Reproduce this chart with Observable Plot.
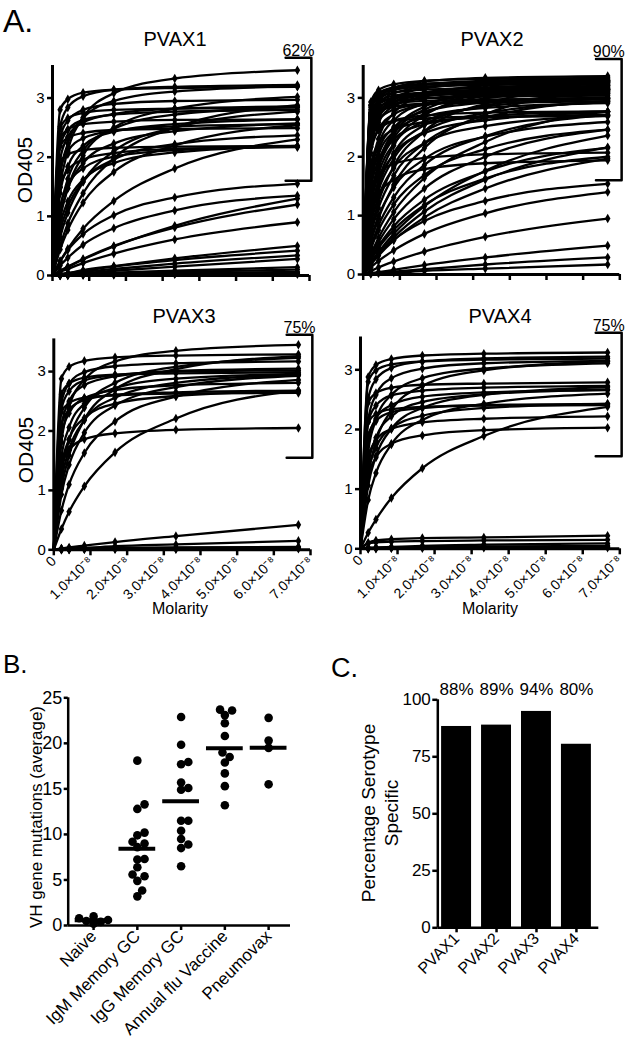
<!DOCTYPE html>
<html>
<head>
<meta charset="utf-8">
<script src="https://cdn.jsdelivr.net/npm/d3@7"></script>
<script src="https://cdn.jsdelivr.net/npm/@observablehq/plot@0.6"></script>
<style>
  html, body { margin: 0; padding: 0; background: #fff; }
  #fig { position: relative; width: 632px; height: 1050px; background: #fff; overflow: hidden;
         font-family: "Liberation Sans", Arial, sans-serif; color: #000; }
  .abs { position: absolute; }
  .lbl { position: absolute; white-space: nowrap; line-height: 1; }
  .rot { position: absolute; white-space: nowrap; text-align: center; transform: translate(-50%, -50%) rotate(-90deg); }
  .ttl { position: absolute; white-space: nowrap; line-height: 1; transform: translateX(-50%); }
</style>
</head>
<body>
<div id="fig"></div>
<script>
// ---------------- Panel A data (OD405 at each molarity, one row per antibody) ----------------
const conc = [2.08e-9, 4.17e-9, 8.33e-9, 1.67e-8, 3.33e-8, 6.67e-8];
const xTickValues = [0, 1e-8, 2e-8, 3e-8, 4e-8, 5e-8, 6e-8, 7e-8];
const yTicksA = [0, 1, 2, 3];
const panelNames = ["PVAX1", "PVAX2", "PVAX3", "PVAX4"];
const positivePct = ["62%", "90%", "75%", "75%"];
const bracketLow = [1.6, 1.6, 1.55, 1.55];
const bracketTop = [3.68, 3.66, 3.62, 3.62];

const pvax1 = [
  [1.49, 2.11, 2.67, 3.08, 3.33, 3.47],
  [2.80, 2.98, 3.09, 3.14, 3.17, 3.19],
  [2.52, 2.84, 3.03, 3.14, 3.19, 3.22],
  [0.96, 1.48, 2.03, 2.50, 2.82, 3.02],
  [0.50, 0.88, 1.39, 1.98, 2.50, 2.88],
  [2.33, 2.62, 2.80, 2.90, 2.95, 2.97],
  [2.49, 2.66, 2.75, 2.80, 2.82, 2.84],
  [1.96, 2.34, 2.59, 2.73, 2.82, 2.86],
  [0.64, 1.06, 1.58, 2.10, 2.50, 2.77],
  [2.32, 2.47, 2.56, 2.60, 2.63, 2.64],
  [1.39, 1.84, 2.19, 2.43, 2.56, 2.64],
  [1.01, 1.47, 1.90, 2.23, 2.44, 2.57],
  [1.76, 2.10, 2.32, 2.45, 2.52, 2.56],
  [0.44, 0.77, 1.23, 1.75, 2.20, 2.54],
  [2.19, 2.33, 2.41, 2.46, 2.48, 2.49],
  [0.75, 1.16, 1.59, 1.96, 2.22, 2.37],
  [1.92, 2.05, 2.12, 2.16, 2.18, 2.19],
  [1.49, 1.78, 1.96, 2.07, 2.14, 2.17],
  [1.15, 1.52, 1.81, 2.01, 2.12, 2.18],
  [0.24, 0.45, 0.79, 1.26, 1.81, 2.30],
  [0.86, 1.25, 1.62, 1.90, 2.08, 2.19],
  [1.12, 1.63, 2.11, 2.48, 2.72, 2.85],
  [2.19, 2.46, 2.63, 2.72, 2.77, 2.80],
  [1.68, 2.23, 2.66, 2.95, 3.11, 3.20],
  [0.24, 0.43, 0.70, 1.02, 1.32, 1.55],
  [0.17, 0.30, 0.52, 0.80, 1.10, 1.35],
  [0.07, 0.14, 0.27, 0.49, 0.84, 1.30],
  [0.08, 0.15, 0.28, 0.50, 0.81, 1.20],
  [0.06, 0.11, 0.21, 0.37, 0.61, 0.90],
  [0.02, 0.04, 0.09, 0.16, 0.29, 0.50],
  [0.02, 0.04, 0.08, 0.15, 0.26, 0.42],
  [0.02, 0.03, 0.06, 0.11, 0.20, 0.34],
  [0.01, 0.02, 0.04, 0.08, 0.15, 0.28],
  [0.01, 0.02, 0.03, 0.05, 0.08, 0.14],
  [0.00, 0.01, 0.02, 0.04, 0.06, 0.10],
  [0.01, 0.01, 0.02, 0.03, 0.04, 0.06],
  [0.00, 0.01, 0.01, 0.02, 0.03, 0.04],
  [0.02, 0.02, 0.03, 0.03, 0.04, 0.05],
  [0.00, 0.00, 0.01, 0.01, 0.02, 0.02]
];

const pvax2 = [
  [2.93, 3.13, 3.23, 3.29, 3.32, 3.34],
  [2.88, 3.08, 3.18, 3.24, 3.27, 3.29],
  [2.84, 3.03, 3.14, 3.19, 3.22, 3.24],
  [2.80, 2.99, 3.09, 3.14, 3.17, 3.19],
  [2.75, 2.94, 3.04, 3.09, 3.12, 3.14],
  [2.71, 2.89, 2.99, 3.04, 3.07, 3.09],
  [2.67, 2.85, 2.94, 2.99, 3.02, 3.04],
  [2.62, 2.80, 2.90, 2.95, 2.97, 2.99],
  [2.58, 2.75, 2.85, 2.90, 2.92, 2.94],
  [2.36, 2.52, 2.61, 2.65, 2.68, 2.69],
  [2.64, 2.97, 3.17, 3.28, 3.34, 3.37],
  [2.56, 2.88, 3.08, 3.18, 3.24, 3.27],
  [2.48, 2.80, 2.99, 3.09, 3.14, 3.17],
  [2.41, 2.71, 2.89, 2.99, 3.04, 3.07],
  [2.33, 2.62, 2.80, 2.90, 2.95, 2.97],
  [2.17, 2.45, 2.61, 2.70, 2.75, 2.77],
  [2.26, 2.70, 2.99, 3.16, 3.25, 3.30],
  [2.16, 2.58, 2.86, 3.02, 3.11, 3.15],
  [2.06, 2.46, 2.72, 2.88, 2.96, 3.00],
  [1.86, 2.22, 2.46, 2.59, 2.67, 2.71],
  [1.73, 2.30, 2.74, 3.04, 3.21, 3.30],
  [1.66, 2.20, 2.62, 2.90, 3.06, 3.16],
  [1.58, 2.10, 2.50, 2.77, 2.92, 3.01],
  [1.45, 1.93, 2.30, 2.55, 2.69, 2.77],
  [1.29, 1.88, 2.43, 2.85, 3.12, 3.28],
  [1.23, 1.80, 2.32, 2.73, 2.99, 3.14],
  [1.17, 1.71, 2.22, 2.60, 2.85, 2.99],
  [1.08, 1.58, 2.04, 2.40, 2.62, 2.76],
  [1.03, 1.59, 2.19, 2.70, 3.04, 3.26],
  [0.97, 1.50, 2.06, 2.54, 2.87, 3.07],
  [0.85, 1.32, 1.81, 2.23, 2.52, 2.70],
  [0.74, 1.23, 1.84, 2.43, 2.90, 3.21],
  [0.68, 1.13, 1.68, 2.23, 2.66, 2.95],
  [0.60, 0.99, 1.48, 1.96, 2.34, 2.59],
  [0.55, 0.95, 1.52, 2.15, 2.72, 3.14],
  [0.47, 0.83, 1.31, 1.86, 2.35, 2.71],
  [0.43, 0.75, 1.19, 1.69, 2.13, 2.46],
  [0.34, 0.62, 1.06, 1.64, 2.25, 2.77],
  [0.30, 0.55, 0.94, 1.46, 2.00, 2.46],
  [0.26, 0.48, 0.82, 1.27, 1.75, 2.15],
  [0.24, 0.45, 0.76, 1.18, 1.63, 2.00],
  [0.20, 0.38, 0.69, 1.16, 1.76, 2.36],
  [0.18, 0.35, 0.63, 1.07, 1.61, 2.16],
  [0.17, 0.32, 0.58, 0.97, 1.46, 1.97],
  [1.02, 1.35, 1.61, 1.79, 1.89, 1.94],
  [1.42, 1.69, 1.88, 1.98, 2.04, 2.07],
  [2.87, 3.06, 3.17, 3.22, 3.25, 3.27],
  [2.73, 2.91, 3.01, 3.06, 3.09, 3.11],
  [2.60, 2.93, 3.13, 3.23, 3.29, 3.32],
  [2.44, 2.75, 2.94, 3.04, 3.09, 3.12],
  [2.21, 2.65, 2.93, 3.09, 3.18, 3.23],
  [1.53, 2.03, 2.42, 2.68, 2.83, 2.91],
  [0.93, 1.43, 1.97, 2.43, 2.74, 2.93],
  [1.26, 1.84, 2.38, 2.80, 3.06, 3.21],
  [0.19, 0.35, 0.59, 0.91, 1.25, 1.54],
  [0.12, 0.23, 0.41, 0.69, 1.04, 1.40],
  [0.06, 0.12, 0.22, 0.39, 0.64, 0.95],
  [0.02, 0.04, 0.08, 0.16, 0.29, 0.49],
  [0.02, 0.03, 0.05, 0.09, 0.17, 0.29],
  [0.01, 0.02, 0.03, 0.06, 0.10, 0.17]
];

const pvax3 = [
  [2.88, 3.08, 3.18, 3.24, 3.27, 3.29],
  [2.48, 2.80, 2.99, 3.09, 3.14, 3.17],
  [2.09, 2.50, 2.77, 2.92, 3.01, 3.05],
  [1.81, 2.40, 2.86, 3.17, 3.35, 3.45],
  [1.27, 1.85, 2.39, 2.81, 3.08, 3.23],
  [1.03, 1.59, 2.19, 2.70, 3.04, 3.26],
  [2.32, 2.47, 2.56, 2.60, 2.63, 2.64],
  [2.10, 2.36, 2.52, 2.61, 2.65, 2.68],
  [1.56, 2.06, 2.46, 2.72, 2.88, 2.96],
  [1.16, 1.69, 2.18, 2.56, 2.81, 2.95],
  [0.93, 1.43, 1.97, 2.43, 2.74, 2.93],
  [0.66, 1.10, 1.63, 2.16, 2.58, 2.86],
  [1.92, 2.30, 2.55, 2.69, 2.77, 2.81],
  [2.62, 2.80, 2.90, 2.95, 2.97, 2.99],
  [0.35, 0.64, 1.07, 1.64, 2.21, 2.68],
  [1.40, 1.68, 1.86, 1.96, 2.02, 2.05],
  [1.40, 1.86, 2.22, 2.46, 2.59, 2.67],
  [2.37, 2.67, 2.85, 2.94, 3.00, 3.02],
  [0.02, 0.04, 0.07, 0.13, 0.23, 0.42],
  [0.01, 0.02, 0.03, 0.06, 0.09, 0.15],
  [0.01, 0.01, 0.02, 0.03, 0.04, 0.05],
  [0.00, 0.01, 0.01, 0.02, 0.02, 0.03],
  [0.02, 0.02, 0.03, 0.03, 0.03, 0.04],
  [0.00, 0.00, 0.01, 0.01, 0.01, 0.02]
];

const pvax4 = [
  [2.88, 3.08, 3.18, 3.24, 3.27, 3.29],
  [2.52, 2.84, 3.03, 3.14, 3.19, 3.22],
  [2.16, 2.58, 2.86, 3.02, 3.11, 3.15],
  [1.63, 2.16, 2.58, 2.86, 3.02, 3.11],
  [2.45, 2.61, 2.70, 2.75, 2.77, 2.79],
  [2.13, 2.40, 2.57, 2.65, 2.70, 2.73],
  [1.82, 2.18, 2.41, 2.55, 2.62, 2.66],
  [1.40, 1.86, 2.22, 2.46, 2.59, 2.67],
  [1.06, 1.55, 2.01, 2.36, 2.58, 2.71],
  [0.82, 1.27, 1.75, 2.16, 2.43, 2.60],
  [2.12, 2.26, 2.34, 2.38, 2.40, 2.41],
  [1.90, 2.14, 2.29, 2.36, 2.41, 2.43],
  [1.52, 1.82, 2.01, 2.12, 2.18, 2.22],
  [1.23, 1.80, 2.32, 2.73, 2.99, 3.14],
  [0.27, 0.49, 0.85, 1.35, 1.89, 2.38],
  [1.21, 1.53, 1.76, 1.90, 1.99, 2.03],
  [1.28, 1.69, 2.02, 2.23, 2.36, 2.43],
  [2.80, 2.99, 3.09, 3.14, 3.17, 3.19],
  [0.10, 0.14, 0.16, 0.18, 0.19, 0.22],
  [0.09, 0.11, 0.12, 0.13, 0.14, 0.15],
  [0.01, 0.02, 0.03, 0.05, 0.07, 0.09],
  [0.00, 0.01, 0.02, 0.03, 0.04, 0.05],
  [0.02, 0.02, 0.02, 0.03, 0.03, 0.04],
  [0.00, 0.00, 0.01, 0.01, 0.02, 0.02]
];

// ---------------- Panel B data ----------------
const groups = ["Naive", "IgM Memory GC", "IgG Memory GC", "Annual flu Vaccine", "Pneumovax"];
const naive = [0.2, 0.4, 0.5, 0.6, 0.8, 1.0];
const igmMemoryGC = [18.1, 13.3, 12.8, 10.2, 9.9, 9.2, 9.0, 8.6, 7.3, 7.25, 6.4, 5.4, 5.6, 4.9, 3.85, 3.2];
const iggMemoryGC = [22.9, 19.85, 17.7, 17.95, 15.1, 14.9, 15.7, 11.5, 11.5, 10.4, 9.5, 8.9, 8.5, 6.5];
const annualFlu = [23.7, 23.6, 23.1, 22.2, 20.8, 19.0, 18.5, 17.9, 16.7, 15.3, 13.2];
const pneumovax = [22.8, 20.3, 19.5, 15.5];
const yTicksB = [0, 5, 10, 15, 20, 25];

// ---------------- Panel C data ----------------
const serotypes = ["PVAX1", "PVAX2", "PVAX3", "PVAX4"];
const pctSpecific = [88.3, 88.9, 94.9, 80.5];
const pctLabels = ["88%", "89%", "94%", "80%"];
const yTicksC = [0, 25, 50, 75, 100];

// ---------------- helpers ----------------
const fig = document.getElementById("fig");
const FONT = "'Liberation Sans', Arial, sans-serif";
const baseStyle = {background: "transparent", overflow: "visible", fontFamily: FONT, color: "black"};

function place(node, left, top) {
  const d = document.createElement("div");
  d.className = "abs";
  d.style.left = left + "px";
  d.style.top = top + "px";
  d.appendChild(node);
  fig.appendChild(d);
}
function addText(cls, text, left, top, size, extra) {
  const d = document.createElement("div");
  d.className = cls;
  d.innerHTML = text;
  d.style.left = left + "px";
  d.style.top = top + "px";
  d.style.fontSize = size + "px";
  if (extra) Object.assign(d.style, extra);
  fig.appendChild(d);
}

const fmtMolar = d => d === 0 ? "0" : (d / 1e-8).toFixed(1) + "\u00D710\u207B\u2078";
const fmtInt = d => String(Math.round(d));

function panelA(k, rows, geom, bottom) {
  const pts = [], lines = [];
  rows.forEach((row, id) => {
    lines.push({id, x: 0, y: 0});
    row.forEach((v, j) => {
      pts.push({id, x: conc[j], y: v});
      lines.push({id, x: conc[j], y: v});
    });
  });
  const bx1 = 6.35e-8, bx2 = 7.05e-8;
  const bracket = [
    {x: bx1, y: bracketTop[k]}, {x: bx2, y: bracketTop[k]},
    {x: bx2, y: bracketLow[k]}, {x: bx1, y: bracketLow[k]}
  ];
  return Plot.plot({
    width: geom.width, height: geom.height,
    marginLeft: geom.ml, marginRight: geom.mr, marginTop: geom.mt, marginBottom: geom.mb,
    style: baseStyle,
    x: {domain: [0, 7e-8]},
    y: {domain: [0, 3.55]},
    marks: [
      Plot.line(lines, {x: "x", y: "y", z: "id", curve: "monotone-x", stroke: "black", strokeWidth: 2.3}),
      Plot.dot(pts, {x: "x", y: "y", symbol: "diamond", r: 2.9, fill: "black", stroke: "none"}),
      Plot.ruleX([0], {stroke: "black", strokeWidth: 3}),
      Plot.ruleY([0], {stroke: "black", strokeWidth: 3}),
      Plot.axisY({ticks: yTicksA, tickFormat: fmtInt, tickSize: 5, tickPadding: 3, fontSize: 15, strokeWidth: 2.5, label: null}),
      Plot.axisX({ticks: xTickValues, tickSize: 6, tickPadding: 3,
                  tickFormat: bottom ? fmtMolar : () => "", tickRotate: bottom ? -45 : 0,
                  fontSize: 14, strokeWidth: 2.5, label: null}),
      Plot.line(bracket, {x: "x", y: "y", stroke: "black", strokeWidth: 2.5}),
      Plot.text([positivePct[k]], {x: (bx1 + bx2) / 2, y: bracketTop[k], text: d => d,
                 lineAnchor: "bottom", dy: -2, fontSize: 16, fill: "black"})
    ]
  });
}

// ---------------- Panel A ----------------
place(panelA(0, pvax1, {width: 318, height: 290, ml: 52, mr: 9, mt: 65, mb: 15}, false), 0, 0);
place(panelA(1, pvax2, {width: 322, height: 290, ml: 52.7, mr: 12.7, mt: 65, mb: 16}, false), 310, 0);
place(panelA(2, pvax3, {width: 318, height: 312, ml: 53.3, mr: 8, mt: 48.4, mb: 52.7}, true), 0, 290);
place(panelA(3, pvax4, {width: 322, height: 312, ml: 50, mr: 12.7, mt: 46.5, mb: 53.7}, true), 310, 290);

addText("lbl", "A.", 3, 5, 32);
addText("ttl", panelNames[0], 175, 29, 20);
addText("ttl", panelNames[1], 492, 29, 20);
addText("ttl", panelNames[2], 184, 306, 20);
addText("ttl", panelNames[3], 500, 306, 20);
addText("rot", "OD405", 24.5, 170, 21);
addText("rot", "OD405", 25.5, 450, 21);
addText("ttl", "Molarity", 180, 601, 16);
addText("ttl", "Molarity", 490, 601, 16);

// ---------------- Panel B ----------------
const bValues = [naive, igmMemoryGC, iggMemoryGC, annualFlu, pneumovax];
const bXDomain = [-0.58, 4.5];
const bPxX = 222 / (bXDomain[1] - bXDomain[0]);
const bPxY = 227.7 / 25;
const dotR = 4.3;

function swarmOffsets(values) {
  const order = values.map((v, i) => i).sort((a, b) => values[a] - values[b]);
  const placed = [], offs = new Array(values.length);
  const step = 2.4, minD = 2 * dotR * 0.82;
  for (const i of order) {
    const y = values[i] * bPxY;
    let off = 0;
    for (let n = 0; n < 60; n++) {
      off = n === 0 ? 0 : (n % 2 ? 1 : -1) * Math.ceil(n / 2) * step;
      if (placed.every(p => (p.x - off) ** 2 + (p.y - y) ** 2 >= minD * minD)) break;
    }
    placed.push({x: off, y});
    offs[i] = off / bPxX;
  }
  return offs;
}

const bPoints = [];
bValues.forEach((vals, gi) => {
  const offs = swarmOffsets(vals);
  vals.forEach((v, j) => bPoints.push({gi, v, x: gi + offs[j]}));
});
const bMeans = bValues.map((vals, gi) => ({gi, m: d3.mean(vals)}));

const plotB = Plot.plot({
  width: 300, height: 370,
  marginLeft: 67.7, marginRight: 10, marginTop: 17.3, marginBottom: 125,
  style: baseStyle,
  x: {domain: bXDomain},
  y: {domain: [0, 25]},
  marks: [
    Plot.ruleX([bXDomain[0]], {stroke: "black", strokeWidth: 2.5}),
    Plot.ruleY([0], {stroke: "black", strokeWidth: 2.5}),
    Plot.dot(bPoints, {x: "x", y: "v", r: dotR, fill: "black", stroke: "none"}),
    Plot.ruleY(bMeans, {y: "m", x1: d => d.gi - 0.42, x2: d => d.gi + 0.42, stroke: "black", strokeWidth: 4}),
    Plot.axisY({ticks: yTicksB, tickSize: 4, tickPadding: 2, fontSize: 18, strokeWidth: 2.5, label: null}),
    Plot.axisX({ticks: groups.map((g, i) => i), tickFormat: i => groups[i], tickRotate: -45,
                tickSize: 5, tickPadding: 3, fontSize: 17, strokeWidth: 2.5, label: null})
  ]
});
place(plotB, 0, 680);
addText("lbl", "B.", 3, 651, 26);
addText("rot", "VH gene mutations (average)", 37, 817, 17);

// ---------------- Panel C ----------------
const cXDomain = [-0.47, 3.56];
const cData = serotypes.map((s, i) => ({i, v: pctSpecific[i], label: pctLabels[i]}));
const plotC = Plot.plot({
  width: 302, height: 380,
  marginLeft: 107.3, marginRight: 33.7, marginTop: 29.3, marginBottom: 122.7,
  style: baseStyle,
  x: {domain: cXDomain},
  y: {domain: [0, 100]},
  marks: [
    Plot.rectY(cData, {x1: d => d.i - 0.375, x2: d => d.i + 0.375, y: "v", fill: "black"}),
    Plot.ruleX([cXDomain[0]], {stroke: "black", strokeWidth: 2.5}),
    Plot.ruleY([0], {stroke: "black", strokeWidth: 2.5}),
    Plot.text(cData, {x: "i", text: "label", frameAnchor: "top", lineAnchor: "bottom", dy: -5, fontSize: 17, fill: "black"}),
    Plot.axisY({ticks: yTicksC, tickSize: 5, tickPadding: 2, fontSize: 17, strokeWidth: 2.5, label: null}),
    Plot.axisX({ticks: serotypes.map((s, i) => i), tickFormat: i => serotypes[i], tickRotate: -45,
                tickSize: 5, tickPadding: 3, fontSize: 16, strokeWidth: 2.5, label: null})
  ]
});
place(plotC, 330, 670);
addText("lbl", "C.", 331, 655, 27);
addText("rot", "Percentage Serotype<br>Specific", 380, 813, 19, {lineHeight: "23px"});
</script>
</body>
</html>
